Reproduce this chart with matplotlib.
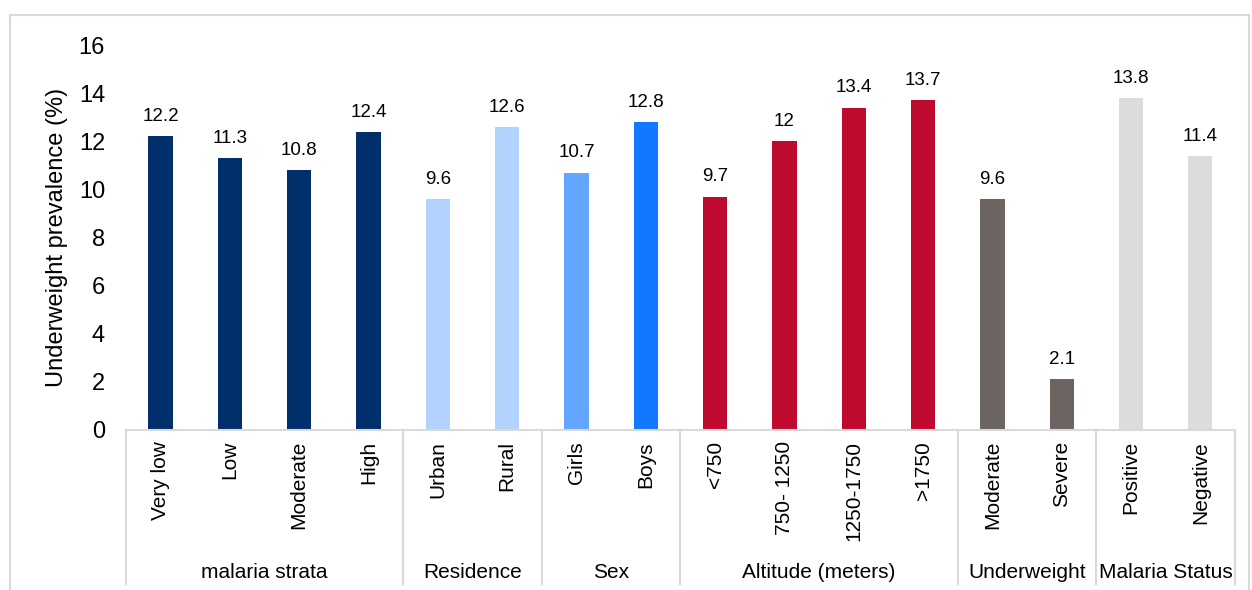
import matplotlib
matplotlib.use("Agg")
import matplotlib.pyplot as plt
from matplotlib.patches import Rectangle
import numpy as np

plt.rcParams["font.family"] = ["Liberation Sans", "DejaVu Sans"]

categories = ["Very low", "Low", "Moderate", "High", "Urban", "Rural", "Girls", "Boys",
              "<750", "750- 1250", "1250-1750", ">1750", "Moderate", "Severe",
              "Positive", "Negative"]
values = [12.2, 11.3, 10.8, 12.4, 9.6, 12.6, 10.7, 12.8, 9.7, 12, 13.4, 13.7, 9.6, 2.1, 13.8, 11.4]
value_labels = ["12.2", "11.3", "10.8", "12.4", "9.6", "12.6", "10.7", "12.8",
                "9.7", "12", "13.4", "13.7", "9.6", "2.1", "13.8", "11.4"]
groups = ["malaria strata", "Residence", "Sex", "Altitude (meters)", "Underweight", "Malaria Status"]
group_sizes = [4, 2, 2, 4, 2, 2]
colors = ["#002F6C"] * 4 + ["#B3D3FF", "#B3D3FF", "#62A6FF", "#1478FF"] + ["#BE0A2E"] * 4 \
         + ["#6B6461"] * 2 + ["#DEDCDB"] * 2

fig = plt.figure(figsize=(12.52, 5.9), dpi=100)
ax = fig.add_axes([0.1006, 0.2712, 0.8858, 0.6525])

# light frame around the chart
fig.patches.append(Rectangle((10 / 1252, -0.1), 1239 / 1252, 1 - 15 / 590 + 0.1,
                             transform=fig.transFigure, fill=False,
                             edgecolor="#D9D9D9", linewidth=1.5))

x = np.arange(len(categories))
ax.bar(x, values, width=0.35, color=colors)
for xi, v, lab in zip(x, values, value_labels):
    ax.annotate(lab, (xi, v), xytext=(0, 8), textcoords="offset points",
                ha="center", va="bottom", fontsize=13.5)

ax.set_xlim(-0.5, len(categories) - 0.5)
ax.set_ylim(0, 16)
ax.set_yticks(np.arange(0, 17, 2))
ax.tick_params(axis="y", length=0, labelsize=17, pad=15)
ax.set_xticks(x)
ax.set_xticklabels(categories, rotation=90, fontsize=15, va="top")
ax.tick_params(axis="x", length=0, pad=8)
ax.set_ylabel("Underweight prevalence (%)", fontsize=17, labelpad=8)

for s in ["top", "right", "left"]:
    ax.spines[s].set_visible(False)
ax.spines["bottom"].set_color("#D9D9D9")
ax.spines["bottom"].set_linewidth(1.5)

# group separators and labels below the axis
bounds = np.concatenate([[0], np.cumsum(group_sizes)]) - 0.5
for b in bounds:
    ax.plot([b, b], [0, -0.40], transform=ax.get_xaxis_transform(), clip_on=False,
            color="#D9D9D9", linewidth=1.5)
for g, lo, hi in zip(groups, bounds[:-1], bounds[1:]):
    ax.text((lo + hi) / 2, -0.369, g, transform=ax.get_xaxis_transform(),
            ha="center", va="center", fontsize=15)

fig.savefig("out.png", dpi=100)
